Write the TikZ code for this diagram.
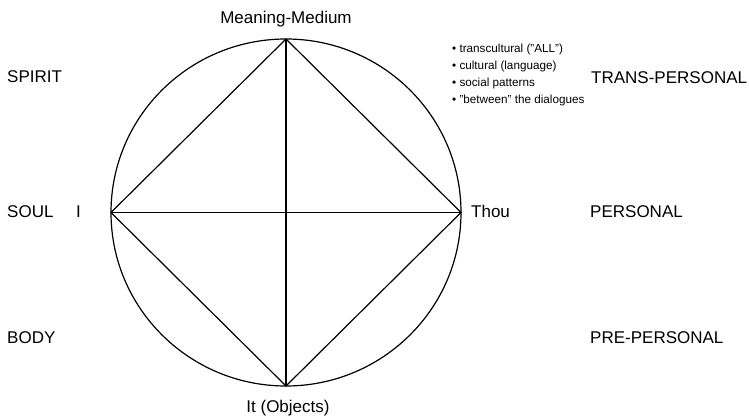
\documentclass[tikz,border=0pt]{standalone}
\usepackage{fontspec}
\setmainfont{Liberation Sans}
\newcommand{\sq}{{\char34}}
\begin{document}
\begin{tikzpicture}[x=1pt,y=-1pt,
  big/.style={inner sep=0pt,anchor=base west,font=\fontsize{17}{20}\selectfont},
  bigc/.style={inner sep=0pt,anchor=base,font=\fontsize{17}{20}\selectfont},
  small/.style={inner sep=0pt,anchor=base west,font=\fontsize{11.7}{14}\selectfont},
  edge/.style={line width=1.2pt,line join=round}]
\useasboundingbox (0,0) rectangle (749,419);
\coordinate (c) at (286,212.5);
\coordinate (top) at (286,39);
\coordinate (bot) at (286,386);
\coordinate (lft) at (111,212.5);
\coordinate (rgt) at (461,212.5);
\draw[edge] (c) ellipse [x radius=175, y radius=173.5];
\draw[edge] (top) -- (rgt) -- (bot) -- (lft) -- cycle;
\draw[edge] (top) -- (bot);
\draw[edge] (lft) -- (rgt);
\node[bigc] (mm) at (286,24) {Meaning-Medium};
\node[bigc] (it) at (288,412) {It (Objects)};
\node[big] (spirit) at (7,83) {SPIRIT};
\node[big] (soul) at (7,218) {SOUL};
\node[big] (i) at (76,218) {I};
\node[big] (body) at (7,343) {BODY};
\node[big] (thou) at (471,218) {Thou};
\node[big] (trans) at (591,84) {TRANS-PERSONAL};
\node[big] (pers) at (590,218) {PERSONAL};
\node[big] (pre) at (590,343) {PRE-PERSONAL};
\node[small] (b1) at (452,53) {• transcultural (\sq ALL\sq)};
\node[small] (b2) at (452,70) {• cultural (language)};
\node[small] (b3) at (452,87) {• social patterns};
\node[small] (b4) at (452,104) {• \sq between\sq{} the dialogues};
\end{tikzpicture}
\end{document}
